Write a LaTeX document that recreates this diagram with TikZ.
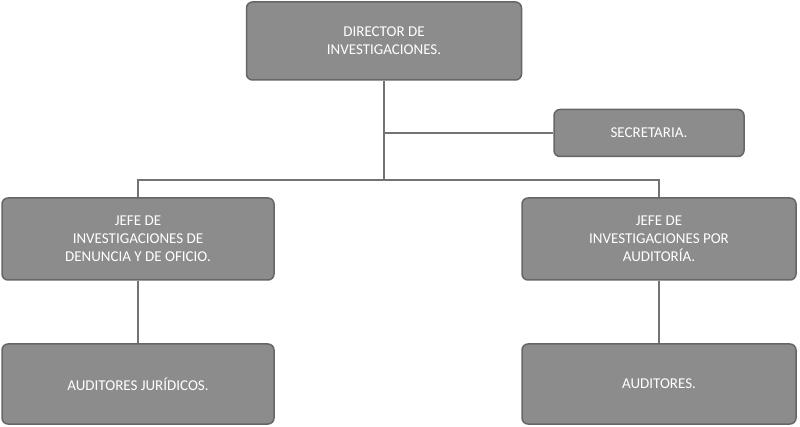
\documentclass[tikz,border=0pt]{standalone}
\usepackage{fontspec}
\setmainfont{Carlito}
\begin{document}
\begin{tikzpicture}[x=1pt,y=-1pt,
  box/.style={draw=black!60,line width=1.5pt,fill=black!45,rounded corners=6pt,text=white,font=\fontsize{15}{18}\selectfont,align=center,inner sep=0pt},
  ln/.style={draw=black!55,line width=2.5pt}]
\useasboundingbox (0,0) rectangle (800,427);
\node[box,minimum width=275pt,minimum height=78pt] (dir) at (384,41) {DIRECTOR DE\\INVESTIGACIONES.};
\node[box,minimum width=190pt,minimum height=47pt] (sec) at (649,133) {SECRETARIA.};
\node[box,minimum width=272pt,minimum height=82pt] (jl) at (138,239) {JEFE DE\\INVESTIGACIONES DE\\DENUNCIA Y DE OFICIO.};
\node[box,minimum width=274pt,minimum height=82pt] (jr) at (659,239) {JEFE DE\\INVESTIGACIONES POR\\AUDITORÍA.};
\node[box,minimum width=272pt,minimum height=80pt] (al) at (138,384) {AUDITORES JURÍDICOS.};
\node[box,minimum width=274pt,minimum height=80pt] (ar) at (659,384) {AUDITORES.};
\coordinate (j) at (384,180);
\draw[ln] (dir.south) -- (j);
\draw[ln] (384,133) -- (sec.west);
\draw[ln] (jl.north) |- (j) -| (jr.north);
\draw[ln] (jl) -- (al);
\draw[ln] (jr) -- (ar);
\end{tikzpicture}
\end{document}
